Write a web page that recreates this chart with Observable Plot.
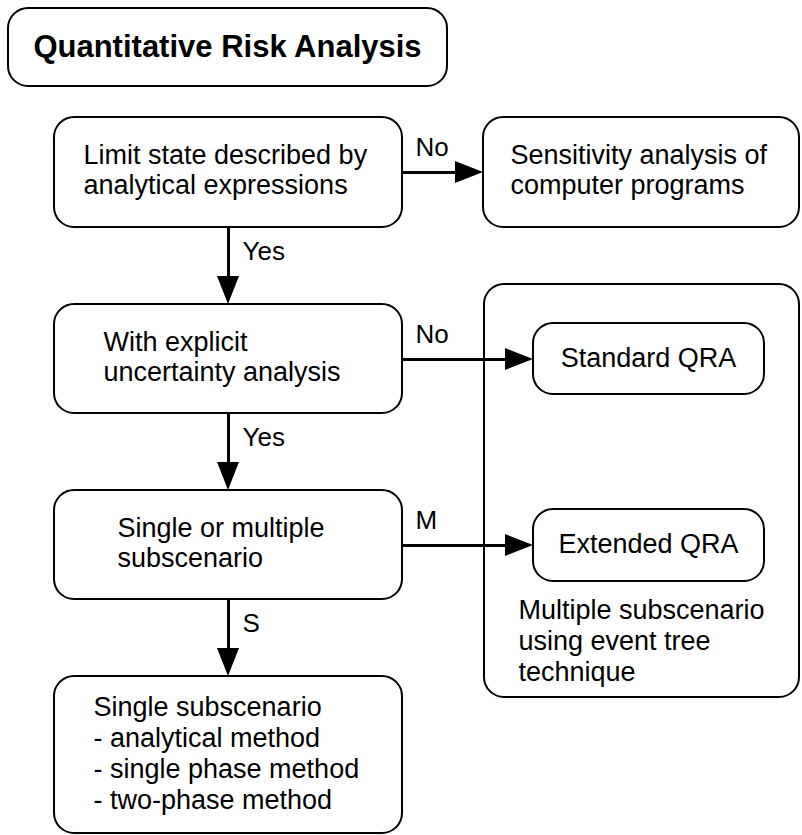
<!DOCTYPE html>
<html>
<head>
<meta charset="utf-8">
<script src="https://cdn.jsdelivr.net/npm/d3@7"></script>
<script src="https://cdn.jsdelivr.net/npm/@observablehq/plot@0.6"></script>
<style>
  html, body { margin: 0; padding: 0; background: #fff; }
  #chart svg { display: block; }
</style>
</head>
<body>
<div id="chart"></div>
<script>
// ---- content ----
const titleText = "Quantitative Risk Analysis";
const nodeIds = ["limit", "sens", "explicit", "standard", "multi", "extended", "single"];
const nodeTexts = [
  ["Limit state described by", "analytical expressions"],
  ["Sensitivity analysis of", "computer programs"],
  ["With explicit", "uncertainty analysis"],
  ["Standard QRA"],
  ["Single or multiple", "subscenario"],
  ["Extended QRA"],
  ["Single subscenario", "- analytical method", "- single phase method", "- two-phase method"]
];
const groupNote = ["Multiple subscenario", "using event tree", "technique"];
const edgeFrom = ["limit", "limit", "explicit", "explicit", "multi", "multi"];
const edgeTo = ["sens", "explicit", "standard", "multi", "extended", "single"];
const edgeLabels = ["No", "Yes", "No", "Yes", "M", "S"];

// ---- layout (diagram units) ----
const W = 802, H = 835;
const titleBox = {x0: 8, y0: 8, x1: 447, y1: 86, tx: 227, ty: 56};
const groupBox = {x0: 484, y0: 284, x1: 799, y1: 697, tx: 518, ty: [618, 649, 680]};
const boxLayout = {
  limit:    {x0: 54,  y0: 117, x1: 402, y1: 227, tx: 83,  ty: [163, 193], anchor: "start"},
  sens:     {x0: 483, y0: 117, x1: 799, y1: 227, tx: 510, ty: [163, 193], anchor: "start"},
  explicit: {x0: 54,  y0: 304, x1: 402, y1: 413, tx: 103, ty: [350, 380], anchor: "start"},
  standard: {x0: 533, y0: 323, x1: 764, y1: 394, tx: 648, ty: [366], anchor: "middle"},
  multi:    {x0: 54,  y0: 490, x1: 402, y1: 599, tx: 117, ty: [536, 566], anchor: "start"},
  extended: {x0: 533, y0: 509, x1: 764, y1: 581, tx: 648, ty: [552], anchor: "middle"},
  single:   {x0: 54,  y0: 676, x1: 402, y1: 833, tx: 93,  ty: [715, 746, 777, 808], anchor: "start"}
};
// anchor rows/cols of each edge
const edgeAt = [
  {dir: "h", at: 172}, {dir: "v", at: 228}, {dir: "h", at: 359},
  {dir: "v", at: 228}, {dir: "h", at: 545}, {dir: "v", at: 228}
];
const headLen = 28, headHalf = 11;

// ---- derived tables ----
const boxes = nodeIds.map((id, i) => ({id, ...boxLayout[id], lines: nodeTexts[i]}));
const boxTextRows = boxes.flatMap(b => b.lines.map((t, j) => ({text: t, x: b.tx, y: b.ty[j], anchor: b.anchor})));
const noteRows = groupNote.map((t, j) => ({text: t, x: groupBox.tx, y: groupBox.ty[j]}));

const edges = edgeFrom.map((f, i) => {
  const a = boxLayout[f], b = boxLayout[edgeTo[i]], e = edgeAt[i];
  if (e.dir === "h") {
    return {i, dir: "h", x1: a.x1, y1: e.at, x2: b.x0, y2: e.at, label: edgeLabels[i], lx: a.x1 + 13, ly: e.at - 17};
  } else {
    return {i, dir: "v", x1: e.at, y1: a.y1, x2: e.at, y2: b.y0, label: edgeLabels[i], lx: e.at + 14, ly: a.y1 + 32};
  }
});
const shafts = edges.map(e => e.dir === "h"
  ? {x1: e.x1, y1: e.y1, x2: e.x2 - headLen + 2, y2: e.y2}
  : {x1: e.x1, y1: e.y1, x2: e.x2, y2: e.y2 - headLen + 2});
const hHeads = edges.filter(e => e.dir === "h").flatMap(e => [
  {i: e.i, x: e.x2 - headLen, lo: e.y2 - headHalf, hi: e.y2 + headHalf},
  {i: e.i, x: e.x2, lo: e.y2, hi: e.y2}
]);
const vHeads = edges.filter(e => e.dir === "v").flatMap(e => [
  {i: e.i, y: e.y2 - headLen, lo: e.x2 - headHalf, hi: e.x2 + headHalf},
  {i: e.i, y: e.y2, lo: e.x2, hi: e.x2}
]);

const font = "'Liberation Sans', Arial, 'DejaVu Sans', sans-serif";
const boxStyle = {stroke: "black", strokeWidth: 2, fill: "white", rx: 20};

const chart = Plot.plot({
  width: W,
  height: H,
  margin: 0,
  x: {domain: [0, W], range: [0, W], axis: null},
  y: {domain: [0, H], range: [0, H], axis: null},
  style: {fontFamily: font, background: "white", color: "black"},
  marks: [
    // title
    Plot.rect([titleBox], {x1: "x0", x2: "x1", y1: "y0", y2: "y1", ...boxStyle}),
    Plot.text([titleBox], {x: "tx", y: "ty", text: () => titleText, fontSize: 31, fontWeight: "bold", textAnchor: "middle", lineAnchor: "bottom", fill: "black"}),
    // group container
    Plot.rect([groupBox], {x1: "x0", x2: "x1", y1: "y0", y2: "y1", ...boxStyle}),
    Plot.text(noteRows, {x: "x", y: "y", text: "text", fontSize: 27, textAnchor: "start", lineAnchor: "bottom", fill: "black"}),
    // arrows
    Plot.link(shafts, {x1: "x1", y1: "y1", x2: "x2", y2: "y2", stroke: "black", strokeWidth: 3}),
    Plot.areaY(hHeads, {x: "x", y1: "lo", y2: "hi", z: "i", fill: "black", curve: "linear"}),
    Plot.areaX(vHeads, {y: "y", x1: "lo", x2: "hi", z: "i", fill: "black", curve: "linear"}),
    Plot.text(edges, {x: "lx", y: "ly", text: "label", fontSize: 26, textAnchor: "start", lineAnchor: "bottom", fill: "black"}),
    // boxes
    Plot.rect(boxes, {x1: "x0", x2: "x1", y1: "y0", y2: "y1", ...boxStyle}),
    Plot.text(boxTextRows.filter(d => d.anchor === "start"), {x: "x", y: "y", text: "text", fontSize: 27, textAnchor: "start", lineAnchor: "bottom", fill: "black"}),
    Plot.text(boxTextRows.filter(d => d.anchor === "middle"), {x: "x", y: "y", text: "text", fontSize: 27, textAnchor: "middle", lineAnchor: "bottom", fill: "black"})
  ]
});
document.getElementById("chart").appendChild(chart);
</script>
</body>
</html>
